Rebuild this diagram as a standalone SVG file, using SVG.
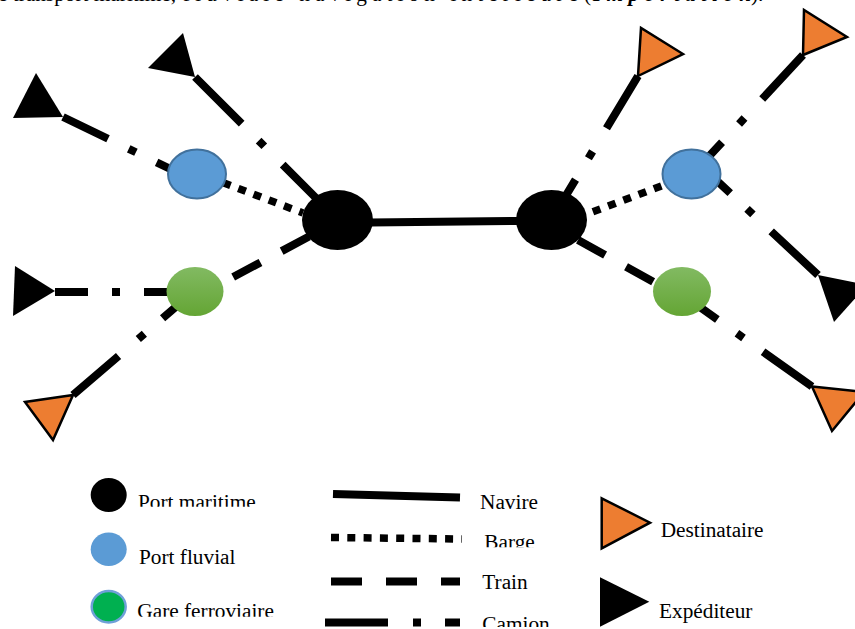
<svg xmlns="http://www.w3.org/2000/svg" width="855" height="629" viewBox="0 0 855 629">
<style>
  text { font-family: "Liberation Serif", "Times New Roman", serif; font-size: 21.3px; fill: #000; }
  .bi { font-weight: bold; font-style: italic; }
  .navire { stroke: #000; stroke-width: 8; fill: none; }
  .barge { stroke: #000; stroke-width: 7.5; fill: none; stroke-dasharray: 8 8.3; }
  .train { stroke: #000; stroke-width: 8; fill: none; stroke-dasharray: 31 24; }
  .camion { stroke: #000; stroke-width: 8; fill: none; }
  .port { fill: #000; }
  .fluvial { fill: #5B9BD5; stroke: #41719C; stroke-width: 2; }
  .gare { fill: url(#gGreen); }
  .dest { fill: #ED7D31; stroke: #000; stroke-width: 2.5; stroke-linejoin: miter; }
  .exp { fill: #000; }
</style>
<defs>
  <linearGradient id="gGreen" x1="0" y1="0" x2="0" y2="1">
    <stop offset="0" stop-color="#82BA62"/>
    <stop offset="1" stop-color="#64A534"/>
  </linearGradient>
  <clipPath id="cPM"><rect x="130" y="480" width="160" height="26.7"/></clipPath>
  <clipPath id="cGF"><rect x="130" y="590" width="160" height="26.7"/></clipPath>
  <clipPath id="cBa"><rect x="478" y="520" width="90" height="27.3"/></clipPath>
  <clipPath id="cCa"><rect x="478" y="600" width="90" height="27"/></clipPath>
</defs>

<g id="header">
  <text x="176" y="1.2" text-anchor="end">de transport maritime,</text>
  <text x="183" y="1.2" textLength="395" lengthAdjust="spacing">fluviale navigation intérieure</text>
  <text x="584" y="1.2">(</text>
  <text x="593" y="1.2" class="bi" textLength="158" lengthAdjust="spacing">Importation</text>
  <text x="751" y="1.2">).</text>
</g>

<g id="connectors">
  <path id="navire" class="navire" d="M370,222.5 L520,221"/>
  <path id="barge-left" class="barge" d="M303,213 L224,183" stroke-dashoffset="4"/>
  <path id="barge-right" class="barge" d="M587,214 L664,185" stroke-dashoffset="10"/>
  <path id="train-left" class="train" d="M309,236.5 L222,283"/>
  <path id="train-right" class="train" d="M578,240 L657,284" stroke-dasharray="32 23"/>
  <path id="camion-a" class="camion" d="M63,117 L185,176" stroke-dasharray="50 23 8 23 200"/>
  <path id="camion-b" class="camion" d="M195,77 L325,207" stroke-dasharray="66 24 8 26 300"/>
  <path id="camion-c" class="camion" d="M55,292 L180,292" stroke-dasharray="33 24 8 24 200"/>
  <path id="camion-d" class="camion" d="M73,395 L185,299" stroke-dasharray="60 26 8 24 200"/>
  <path id="camion-e" class="camion" d="M638,76 L556,212" stroke-dasharray="61 27 8 25 200"/>
  <path id="camion-f" class="camion" d="M803,55 L700,166" stroke-dasharray="60 26 8 25 200"/>
  <path id="camion-g" class="camion" d="M818,275 L700,165" stroke-dasharray="64 25 8 23 200"/>
  <path id="camion-h" class="camion" d="M812,386.5 L690,300" stroke-dasharray="60 24 8 24 200"/>
</g>

<g id="port-maritime-left"><ellipse class="port" cx="337.5" cy="220" rx="35.5" ry="30"/></g>
<g id="port-maritime-right"><ellipse class="port" cx="551.5" cy="220" rx="35.5" ry="30"/></g>
<g id="port-fluvial-left"><ellipse class="fluvial" cx="197" cy="174" rx="29" ry="24.5"/></g>
<g id="port-fluvial-right"><ellipse class="fluvial" cx="691.5" cy="174" rx="29" ry="24.5"/></g>
<g id="gare-left"><ellipse class="gare" cx="195" cy="291.5" rx="28.5" ry="24.5"/></g>
<g id="gare-right"><ellipse class="gare" cx="682" cy="291.5" rx="29" ry="24.5"/></g>

<g id="expediteur-a"><polygon class="exp" points="63,117 36,73 13,118"/></g>
<g id="expediteur-b"><polygon class="exp" points="195,77 183,33 148,68"/></g>
<g id="expediteur-c"><polygon class="exp" points="55,291 15,266 13,316"/></g>
<g id="expediteur-g"><polygon class="exp" points="818,275 834,322 867,285"/></g>
<g id="destinataire-d"><polygon class="dest" points="73,395 25,402 53,440"/></g>
<g id="destinataire-e"><polygon class="dest" points="638,76 641,28 683,54"/></g>
<g id="destinataire-f"><polygon class="dest" points="803,55 804,10 847,37"/></g>
<g id="destinataire-h"><polygon class="dest" points="812,386.5 832,431 864,392"/></g>

<g id="legend">
  <g id="leg-port-maritime">
    <ellipse cx="108.7" cy="495" rx="18" ry="17" fill="#000"/>
    <text x="138" y="509" clip-path="url(#cPM)">Port maritime</text>
  </g>
  <g id="leg-port-fluvial">
    <ellipse cx="108.7" cy="549.3" rx="18" ry="16.7" fill="#5B9BD5"/>
    <text x="139" y="564">Port fluvial</text>
  </g>
  <g id="leg-gare">
    <ellipse cx="108.7" cy="606.7" rx="17" ry="15.7" fill="#00B050" stroke="#6FA0D8" stroke-width="2.5"/>
    <text x="137.3" y="618" clip-path="url(#cGF)">Gare ferroviaire</text>
  </g>
  <g id="leg-navire">
    <path class="navire" d="M333,494 L460,497.5" stroke-width="7.5"/>
    <text x="480" y="509.3">Navire</text>
  </g>
  <g id="leg-barge">
    <path class="barge" d="M331,537.5 L462,539" stroke-dasharray="7.7 8.3"/>
    <text x="484.3" y="549" clip-path="url(#cBa)">Barge</text>
  </g>
  <g id="leg-train">
    <path class="train" d="M331,581.5 L460,581.5" stroke-width="9" stroke-dasharray="32 24"/>
    <text x="482.3" y="589.3">Train</text>
  </g>
  <g id="leg-camion">
    <path class="camion" d="M325,622.5 L460,622.5" stroke-width="8.5" stroke-dasharray="63 25 8 24 100"/>
    <text x="482.3" y="630.8" clip-path="url(#cCa)">Camion</text>
  </g>
  <g id="leg-destinataire">
    <polygon class="dest" points="601.7,498.3 650,522.7 601.7,548.3"/>
    <text x="660.7" y="537.3">Destinataire</text>
  </g>
  <g id="leg-expediteur">
    <polygon class="exp" points="600,577.3 649.3,601.7 600,626.7"/>
    <text x="659" y="617.5">Expéditeur</text>
  </g>
</g>
</svg>
